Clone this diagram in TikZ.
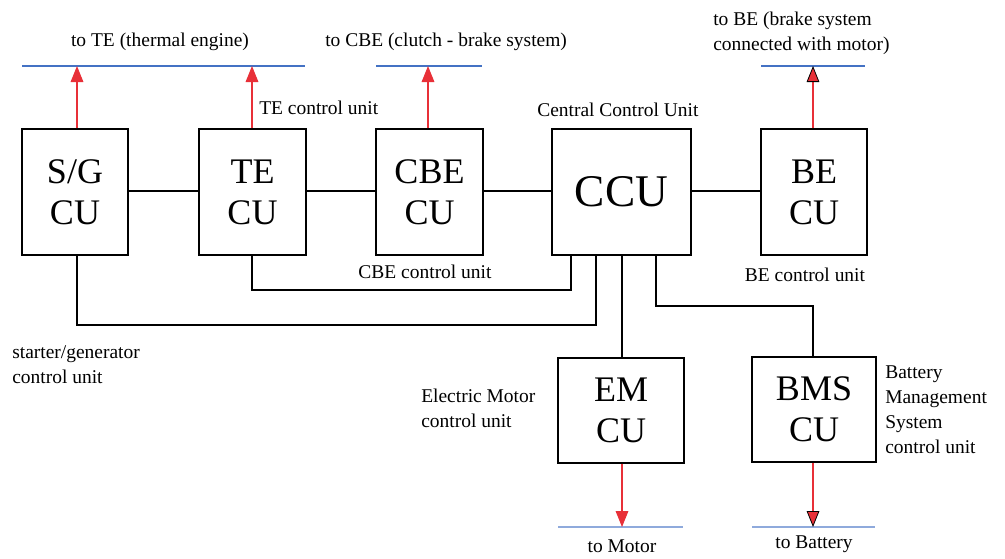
\documentclass[tikz,border=0pt]{standalone}
\usepackage{fontspec}
\setmainfont{Liberation Serif}
\usetikzlibrary{arrows.meta}
\definecolor{arrred}{RGB}{232,48,56}
\definecolor{topblue}{RGB}{68,114,196}
\definecolor{botblue}{RGB}{143,170,220}
\newcommand{\lblf}{\fontsize{14.6}{18.75}\selectfont}
\newcommand{\boxf}{\fontsize{27}{30.75}\selectfont}
\newcommand{\ccuf}{\fontsize{34}{36}\selectfont}
\begin{document}
\begin{tikzpicture}[x=0.75pt,y=-0.75pt,
  unitbox/.style={draw, line width=1.1pt, inner sep=0pt, align=center, font=\boxf, minimum height=94.5pt},
  lbl/.style={inner sep=0pt, font=\lblf, align=left},
  wire/.style={line width=1.1pt, black},
  sig/.style={line width=0.8pt, arrred, -{Triangle[length=12pt,width=9.5pt]}},
  sigo/.style={line width=0.8pt, arrred, -{Triangle[length=12pt,width=9.5pt,color=black,fill=arrred,line width=0.6pt]}},
  tgt/.style={line width=0.9pt, topblue},
  tgb/.style={line width=0.9pt, botblue}]
\useasboundingbox (0,0) rectangle (1005,558);
% boxes
\node[unitbox, minimum width=79.5pt] (sg) at (75,192) {S/G\\CU};
\node[unitbox, minimum width=80.25pt] (te) at (252.5,192) {TE\\CU};
\node[unitbox, minimum width=80.25pt] (cbe) at (429.5,192) {CBE\\CU};
\node[unitbox, minimum width=104.25pt, font=\ccuf] (ccu) at (621.5,192) {CCU};
\node[unitbox, minimum width=79.5pt] (be) at (814,192) {BE\\CU};
\node[unitbox, minimum width=94.5pt, minimum height=78.75pt] (em) at (621,410.5) {EM\\CU};
\node[unitbox, minimum width=93pt, minimum height=78.75pt] (bms) at (814,409.5) {BMS\\CU};
% target lines
\coordinate (tl1) at (22,66); \coordinate (tr1) at (305,66);
\coordinate (tl2) at (376,66); \coordinate (tr2) at (482,66);
\coordinate (tl3) at (761,66); \coordinate (tr3) at (865,66);
\coordinate (bl1) at (558,527); \coordinate (br1) at (683,527);
\coordinate (bl2) at (752,527); \coordinate (br2) at (875,527);
\draw[tgt] (tl1) -- (tr1);
\draw[tgt] (tl2) -- (tr2);
\draw[tgt] (tl3) -- (tr3);
\draw[tgb] (bl1) -- (br1);
\draw[tgb] (bl2) -- (br2);
% arrow tips
\coordinate (asg) at (77,66);
\coordinate (ate) at (252,66);
\coordinate (acbe) at (428,66);
\coordinate (abe) at (813,66);
\coordinate (aem) at (622,527);
\coordinate (abms) at (813,527);
\draw[sig] (sg.north -| asg) -- (asg);
\draw[sig] (te.north -| ate) -- (ate);
\draw[sig] (cbe.north -| acbe) -- (acbe);
\draw[sigo] (be.north -| abe) -- (abe);
\draw[sig] (em.south -| aem) -- (aem);
\draw[sigo] (bms.south -| abms) -- (abms);
% wiring
\draw[wire] (sg.east |- 0,191) -- (te.west |- 0,191);
\draw[wire] (te.east |- 0,191) -- (cbe.west |- 0,191);
\draw[wire] (cbe.east |- 0,191) -- (ccu.west |- 0,191);
\draw[wire] (ccu.east |- 0,191) -- (be.west |- 0,191);
\coordinate (k1) at (77,325); \coordinate (k2) at (596,325);
\coordinate (k3) at (252,290); \coordinate (k4) at (571,290);
\coordinate (k5) at (656,306); \coordinate (k6) at (813,306);
\draw[wire] (sg.south -| k1) -- (k1) -- (k2) -- (ccu.south -| k2);
\draw[wire] (te.south -| k3) -- (k3) -- (k4) -- (ccu.south -| k4);
\draw[wire] (ccu.south -| 622,0) -- (em.north -| 622,0);
\draw[wire] (ccu.south -| k5) -- (k5) -- (k6) -- (bms.north -| k6);
% labels
\node[lbl] (l1) at (160,42) {to TE (thermal engine)};
\node[lbl, anchor=west] (l2) at (325,42) {to CBE (clutch - brake system)};
\node[lbl, anchor=west] (l3) at (713,33.5) {to BE (brake system\\connected with motor)};
\node[lbl, anchor=west] (l4) at (259,108) {TE control unit};
\node[lbl, anchor=west] (l5) at (537,110) {Central Control Unit};
\node[lbl] (l6) at (425,272) {CBE control unit};
\node[lbl] (l7) at (805,275) {BE control unit};
\node[lbl, anchor=west] (l8) at (12,364.5) {starter/generator\\control unit};
\node[lbl, anchor=west] (l9) at (421,408) {Electric Motor\\control unit};
\node[lbl, anchor=west] (l10) at (885,409.5) {Battery\\Management\\System\\control unit};
\node[lbl] (l11) at (622,546) {to Motor};
\node[lbl] (l12) at (814,544) {to Battery};
\end{tikzpicture}
\end{document}
